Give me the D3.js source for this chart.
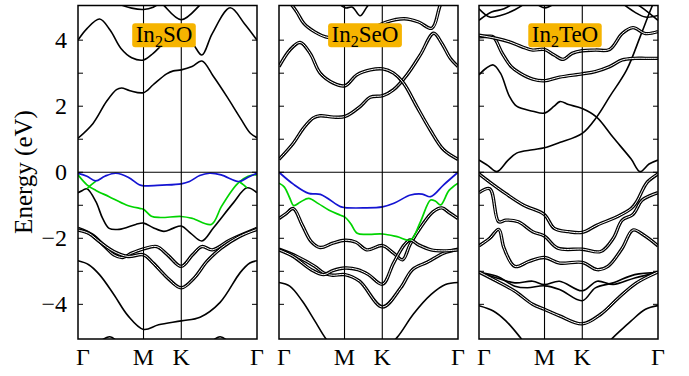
<!DOCTYPE html>
<html>
<head>
<meta charset="utf-8">
<script src="https://cdn.jsdelivr.net/npm/d3@7"></script>
<style>
body { margin: 0; background: #fff; }
text { font-family: "Liberation Serif", "Times New Roman", serif; }
</style>
</head>
<body>
<svg id="chart" width="689" height="376"></svg>
<script>
// high symmetry path, k as fraction of path length
const kLabels = ['Γ', 'M', 'K', 'Γ'];
const kTicks = [0, 0.366, 0.577, 1];
const yTicks = [-4, -2, 0, 2, 4];
const titles = [['In', '2', 'SO'], ['In', '2', 'SeO'], ['In', '2', 'TeO']];

// ---- In2SO ----
const soCond = [
  [[0,1.03],[0.084,1.48],[0.159,2.14],[0.215,2.5],[0.243,2.55],[0.29,2.47],[0.366,2.41],[0.42,2.65],[0.495,2.98],[0.533,3.07],[0.577,3.1],[0.637,3.2],[0.692,3.37],[0.757,2.9],[0.832,2.29],[0.907,1.64],[0.963,1.18],[1,1.05]],
  [[0,4.0],[0.05,4.35],[0.121,4.64],[0.18,4.3],[0.24,3.75],[0.3,3.47],[0.366,3.4],[0.42,3.6],[0.5,4.0],[0.577,4.15],[0.64,3.9],[0.692,3.55],[0.75,4.2],[0.85,4.98],[0.93,4.5],[1,4.0]],
  [[0.1,5.4],[0.2,5.15],[0.3,4.97],[0.366,4.93],[0.42,5.0],[0.5,5.3]],
  [[0.44,5.3],[0.477,5.07],[0.577,4.62],[0.682,5.07],[0.72,5.3]]
];
const soVal = [
  [[0,-0.62],[0.025,-0.55],[0.05,-0.5],[0.1,-0.89],[0.137,-1.39],[0.174,-1.7],[0.23,-1.73],[0.323,-1.58],[0.366,-1.54],[0.42,-1.68],[0.48,-1.79],[0.53,-1.7],[0.577,-1.63],[0.63,-1.85],[0.692,-2.08],[0.757,-1.68],[0.869,-0.92],[0.944,-0.47],[1,-0.62]],
  [[0,-1.7],[0.08,-1.9],[0.15,-2.25],[0.2,-2.5],[0.25,-2.58],[0.3,-2.45],[0.366,-2.32],[0.44,-2.25],[0.5,-2.5],[0.577,-2.85],[0.64,-2.5],[0.692,-2.25],[0.75,-2.35],[0.85,-2.05],[1,-1.7]],
  [[0,-1.75],[0.06,-1.85],[0.12,-2.1],[0.2,-2.4],[0.28,-2.55],[0.366,-2.5],[0.42,-2.75],[0.5,-3.2],[0.577,-3.5],[0.65,-3.2],[0.72,-2.7],[0.8,-2.3],[0.9,-1.95],[1,-1.73]],
  [[0,-2.68],[0.06,-2.8],[0.12,-3.1],[0.2,-3.7],[0.28,-4.35],[0.366,-4.76],[0.45,-4.62],[0.577,-4.5],[0.682,-4.39],[0.794,-3.94],[0.906,-3.04],[0.96,-2.75],[1,-2.68]],
  [[0,-5.4],[0.1,-5.2],[0.178,-4.98],[0.26,-5.3],[0.4,-5.5],[0.7,-5.3],[0.794,-4.98],[0.88,-5.3],[1,-5.5]]
];
const soBlue = [[0,-0.03],[0.05,-0.12],[0.099,-0.26],[0.15,-0.12],[0.211,-0.03],[0.28,-0.15],[0.342,-0.38],[0.366,-0.41],[0.47,-0.39],[0.577,-0.35],[0.623,-0.28],[0.68,-0.1],[0.735,-0.03],[0.8,-0.08],[0.899,-0.28],[0.95,-0.15],[1,-0.03]];
const soGreen = [
  [[0,-0.08],[0.05,-0.38],[0.1,-0.55],[0.174,-0.74],[0.27,-0.99],[0.35,-1.1],[0.366,-1.12],[0.41,-1.33],[0.46,-1.37],[0.577,-1.34],[0.64,-1.4],[0.745,-1.58],[0.8,-1.05],[0.86,-0.55],[0.9,-0.3],[0.95,-0.12],[1,-0.07]],
  [[0.05,-0.5],[0.07,-0.4],[0.1,-0.27]],
  [[0.9,-0.28],[0.925,-0.38],[0.944,-0.47]]
];

// ---- In2SeO ----
const seCond = [
  [[0,0.39],[0.08,0.88],[0.136,1.33],[0.19,1.64],[0.23,1.71],[0.304,1.67],[0.369,1.69],[0.453,1.99],[0.509,2.27],[0.58,2.32],[0.64,2.5],[0.715,2.95],[0.79,3.56],[0.864,4.21],[0.91,3.9],[0.957,3.45],[1,3.2]],
  [[0,3.2],[0.062,3.71],[0.118,3.93],[0.174,3.6],[0.23,3.0],[0.304,2.7],[0.369,2.62],[0.435,2.95],[0.51,3.1],[0.58,3.13],[0.64,3.0],[0.696,2.7],[0.77,1.99],[0.845,1.28],[0.92,0.68],[1,0.39]],
  [[0.06,5.15],[0.1,4.85],[0.14,4.5],[0.2,4.25],[0.26,4.1],[0.369,4.05],[0.5,4.3],[0.6,4.55],[0.7,4.65],[0.78,4.55],[0.854,4.36],[0.9,5.05],[0.93,5.4]],
  [[0.3,5.3],[0.369,4.98],[0.41,5.0],[0.453,4.74],[0.49,5.0],[0.53,5.3]]
];
const seVal = [
  [[0,-1.4],[0.04,-1.25],[0.08,-1.1],[0.13,-1.6],[0.18,-2.1],[0.23,-2.28],[0.3,-2.15],[0.368,-2.06],[0.43,-2.12],[0.49,-2.35],[0.578,-2.22],[0.64,-2.45],[0.69,-2.65],[0.733,-2.18],[0.8,-1.6],[0.86,-1.2],[0.91,-1.08],[0.95,-1.22],[1,-1.4]],
  [[0,-2.33],[0.1,-2.55],[0.2,-2.85],[0.25,-3.05],[0.3,-3.12],[0.368,-3.1],[0.45,-3.3],[0.578,-4.08],[0.68,-3.5],[0.745,-2.95],[0.83,-2.72],[0.92,-2.45],[1,-2.33]],
  [[0,-2.35],[0.08,-2.55],[0.18,-2.95],[0.25,-3.1],[0.3,-2.98],[0.368,-2.9],[0.44,-2.95],[0.5,-3.1],[0.578,-3.39],[0.64,-2.75],[0.7,-2.2],[0.733,-2.05],[0.78,-2.2],[0.85,-2.35],[0.92,-2.38],[1,-2.35]],
  [[0,-3.34],[0.06,-3.45],[0.13,-3.9],[0.2,-4.5],[0.27,-5.1],[0.35,-5.5],[0.577,-5.4],[0.66,-5.0],[0.75,-4.3],[0.85,-3.7],[0.93,-3.4],[1,-3.34]]
];
const seBlue = [[0,0],[0.08,-0.36],[0.166,-0.64],[0.231,-0.67],[0.343,-1.04],[0.368,-1.07],[0.47,-1.08],[0.578,-1.05],[0.642,-0.94],[0.735,-0.69],[0.8,-0.66],[0.847,-0.74],[0.92,-0.38],[1,0]];
const seGreen = [
  [[0,-0.33],[0.03,-0.45],[0.06,-0.78],[0.082,-1.01],[0.12,-0.9],[0.166,-0.79],[0.22,-0.95],[0.28,-1.15],[0.343,-1.3],[0.368,-1.36],[0.4,-1.55],[0.437,-1.85],[0.5,-1.88],[0.578,-1.87],[0.66,-1.95],[0.735,-2.05],[0.79,-1.5],[0.847,-0.84],[0.875,-0.88],[0.903,-0.99],[0.95,-0.55],[1,-0.33]]
];

// ---- In2TeO ----
const teCond = [
  [[0,0.37],[0.05,0.2],[0.1,0.02],[0.16,0.35],[0.21,0.58],[0.3,0.68],[0.365,0.74],[0.45,0.9],[0.577,1.18],[0.657,1.67],[0.73,2.29],[0.825,3.1],[0.9,4.1],[0.95,4.8],[0.98,5.2]],
  [[0,2.95],[0.04,3.15],[0.08,3.25],[0.12,3.0],[0.17,2.3],[0.21,2.0],[0.3,1.85],[0.365,1.79],[0.42,2.0],[0.452,2.14],[0.5,2.05],[0.577,1.93],[0.657,1.67],[0.75,1.05],[0.85,0.4],[0.9,0.02],[0.95,0.25],[1,0.37]],
  [[0,4.1],[0.05,4.12],[0.08,4.1],[0.13,3.6],[0.18,3.2],[0.23,3.0],[0.3,2.82],[0.365,2.77],[0.45,2.88],[0.577,2.98],[0.65,3.05],[0.73,3.2],[0.8,3.4],[0.87,3.45],[0.93,3.45],[1,3.45]],
  [[0,4.15],[0.1,4.05],[0.17,3.95],[0.24,3.8],[0.3,3.7],[0.365,3.72],[0.42,3.55],[0.47,3.42],[0.52,3.6],[0.577,3.68],[0.65,3.7],[0.73,3.72],[0.8,4.2],[0.86,4.38],[0.93,4.2],[1,4.26]],
  [[0,4.95],[0.06,4.7],[0.12,4.75],[0.2,4.92],[0.28,5.2]],
  [[0,4.6],[0.07,4.85],[0.14,4.95],[0.2,5.15]],
  [[0.3,5.2],[0.365,4.98],[0.42,5.1],[0.46,5.3]],
  [[0.78,5.2],[0.87,4.85],[0.93,4.7],[1,4.75]],
  [[0.85,5.2],[0.92,4.95],[1,4.6]]
];
const teVal = [
  [[0,-0.05],[0.06,-0.3],[0.15,-0.65],[0.25,-1.0],[0.365,-1.28],[0.42,-1.7],[0.5,-1.8],[0.577,-1.82],[0.66,-1.6],[0.77,-1.35],[0.85,-1.1],[0.88,-0.9],[0.94,-0.3],[1,-0.05]],
  [[0,-0.62],[0.06,-0.5],[0.11,-1.5],[0.15,-1.45],[0.22,-1.5],[0.3,-1.8],[0.365,-1.93],[0.44,-2.3],[0.577,-2.33],[0.68,-2.4],[0.75,-2.0],[0.8,-1.45],[0.86,-1.28],[0.91,-0.85],[0.96,-0.7],[1,-0.62]],
  [[0,-2.23],[0.06,-2.0],[0.11,-1.73],[0.14,-2.3],[0.2,-2.85],[0.28,-2.7],[0.365,-2.58],[0.45,-2.75],[0.577,-2.73],[0.66,-2.95],[0.72,-2.85],[0.8,-2.3],[0.86,-1.75],[0.92,-1.9],[1,-2.23]],
  [[0,-3.04],[0.1,-3.15],[0.2,-3.45],[0.27,-3.5],[0.365,-3.44],[0.45,-3.55],[0.577,-3.89],[0.65,-3.5],[0.75,-3.35],[0.87,-3.1],[1,-3.04]],
  [[0,-3.04],[0.1,-3.2],[0.2,-3.35],[0.3,-3.3],[0.365,-3.4],[0.45,-3.3],[0.577,-3.59],[0.66,-3.3],[0.75,-3.4],[0.87,-3.2],[1,-3.04]],
  [[0,-3.02],[0.1,-3.3],[0.2,-3.6],[0.3,-4.0],[0.365,-4.15],[0.45,-4.35],[0.577,-4.59],[0.68,-4.3],[0.78,-3.8],[0.88,-3.35],[1,-3.02]],
  [[0,-4.04],[0.08,-4.2],[0.15,-4.5],[0.23,-5.0],[0.3,-5.5],[0.65,-5.5],[0.75,-5.0],[0.85,-4.5],[0.93,-4.15],[1,-4.04]]
];

const panels = [
  { cond: soCond, val: soVal, blue: soBlue, green: soGreen, dblCond: [], dblVal: [1, 2] },
  { cond: seCond, val: seVal, blue: seBlue, green: seGreen, dblCond: [0, 1, 2], dblVal: [0, 1, 2] },
  { cond: teCond, val: teVal, blue: null, green: [], dblCond: [2, 3], dblVal: [0, 1, 2, 5] }
];

const svg = d3.select('#chart');
const panelLeft = [78, 279, 479];
const panelW = 179;
const yTop = 5.5, yBottom = 339;

const y = d3.scaleLinear().domain([-5.05, 5.05]).range([yBottom, yTop]);
const x = d3.scaleLinear().domain([0, 1]).range([0, panelW]);
const line = d3.line()
  .x(d => x(d[0]))
  .y(d => y(d[1]))
  .curve(d3.curveCatmullRom.alpha(0.5));

panels.forEach((p, i) => {
  const g = svg.append('g').attr('transform', `translate(${panelLeft[i]},0)`);

  g.append('clipPath').attr('id', 'clip' + i)
    .append('rect')
    .attr('x', 0).attr('y', yTop)
    .attr('width', panelW).attr('height', yBottom - yTop);

  const bands = g.append('g').attr('clip-path', `url(#clip${i})`);

  const drawBand = (d, dbl) => {
    if (dbl) {
      bands.append('path').attr('d', line(d))
        .attr('fill', 'none').attr('stroke', '#000').attr('stroke-width', 3.4);
      bands.append('path').attr('d', line(d))
        .attr('fill', 'none').attr('stroke', '#fff').attr('stroke-width', 1);
    } else {
      bands.append('path').attr('d', line(d))
        .attr('fill', 'none').attr('stroke', '#000').attr('stroke-width', 1.6);
    }
  };
  p.cond.forEach((d, j) => drawBand(d, p.dblCond.includes(j)));
  p.val.forEach((d, j) => drawBand(d, p.dblVal.includes(j)));

  p.green.forEach(d => {
    bands.append('path').attr('d', line(d))
      .attr('fill', 'none').attr('stroke', '#00d400').attr('stroke-width', 1.7);
  });
  if (p.blue) {
    bands.append('path').attr('d', line(p.blue))
      .attr('fill', 'none').attr('stroke', '#1414d2').attr('stroke-width', 1.7);
  }

  // high symmetry lines and Fermi level
  g.selectAll('.kline')
    .data(kTicks.slice(1, 3))
    .enter()
    .append('line')
    .attr('x1', d => x(d)).attr('x2', d => x(d))
    .attr('y1', yTop).attr('y2', yBottom)
    .attr('stroke', '#000').attr('stroke-width', 1.1);

  g.append('line')
    .attr('x1', 0).attr('x2', panelW)
    .attr('y1', y(0)).attr('y2', y(0))
    .attr('stroke', '#000').attr('stroke-width', 1.1);

  // ticks on both sides, pointing in
  const minor = d3.range(-4, 5);
  g.selectAll('.tl').data(minor).enter().append('line')
    .attr('x1', 0).attr('x2', 5)
    .attr('y1', d => y(d)).attr('y2', d => y(d))
    .attr('stroke', '#000').attr('stroke-width', 1);
  g.selectAll('.tr').data(minor).enter().append('line')
    .attr('x1', panelW - 5).attr('x2', panelW)
    .attr('y1', d => y(d)).attr('y2', d => y(d))
    .attr('stroke', '#000').attr('stroke-width', 1);

  g.append('rect')
    .attr('x', 0).attr('y', yTop)
    .attr('width', panelW).attr('height', yBottom - yTop)
    .attr('fill', 'none').attr('stroke', '#000').attr('stroke-width', 1.5);

  // k labels
  g.selectAll('.klab')
    .data(kTicks)
    .enter()
    .append('text')
    .attr('x', d => x(d))
    .attr('dx', (d, j) => j === 0 ? 5 : 0)
    .attr('y', 365)
    .attr('text-anchor', 'middle')
    .style('font-size', '24px')
    .text((d, j) => kLabels[j]);

  // title box
  const box = g.append('rect');
  const t = g.append('text')
    .attr('x', panelW / 2 - 3.5)
    .attr('y', 42)
    .attr('text-anchor', 'middle')
    .style('font-size', '23px');
  t.append('tspan').text(titles[i][0]);
  t.append('tspan').text(titles[i][1]).attr('dy', 5).style('font-size', '16px');
  t.append('tspan').text(titles[i][2]).attr('dy', -5);
  const bb = t.node().getBBox();
  box.attr('x', bb.x - 3.5)
    .attr('y', 23.3)
    .attr('width', bb.width + 7)
    .attr('height', 24)
    .attr('rx', 3)
    .attr('fill', '#f6b400');
});

// y axis labels
svg.selectAll('.ylab')
  .data(yTicks)
  .enter()
  .append('text')
  .attr('x', 67)
  .attr('y', d => y(d) + 8)
  .attr('text-anchor', 'end')
  .style('font-size', '24px')
  .text(d => d < 0 ? '\u2212' + Math.abs(d) : d);

svg.append('text')
  .attr('transform', 'translate(32,172) rotate(-90)')
  .attr('text-anchor', 'middle')
  .style('font-size', '25px')
  .text('Energy (eV)');
</script>
</body>
</html>
